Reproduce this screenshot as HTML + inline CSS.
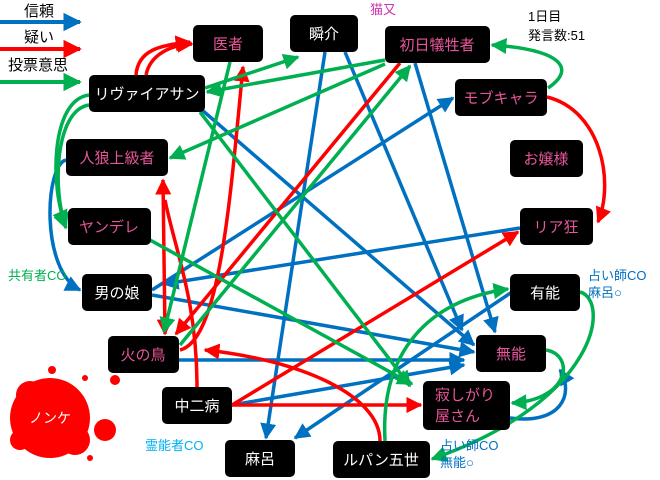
<!DOCTYPE html>
<html><head><meta charset="utf-8"><style>
body{margin:0;background:#fff;}
svg{display:block;font-family:"Liberation Sans","Noto Sans CJK JP",sans-serif;}
.n{fill:#000;}
.w{fill:#fff;font-size:15px;text-anchor:middle;}
.p{fill:#e8559a;font-size:15px;text-anchor:middle;}
</style></head><body>
<svg width="660" height="480" viewBox="0 0 660 480" xmlns="http://www.w3.org/2000/svg">
<defs>
<marker id="b" viewBox="0 0 10 10" refX="9" refY="5" markerWidth="4.6" markerHeight="4.6" orient="auto"><path d="M0,0L10,5L0,10z" fill="#0070c0"/></marker>
<marker id="r" viewBox="0 0 10 10" refX="9" refY="5" markerWidth="4.6" markerHeight="4.6" orient="auto"><path d="M0,0L10,5L0,10z" fill="#ff0000"/></marker>
<marker id="g" viewBox="0 0 10 10" refX="9" refY="5" markerWidth="4.6" markerHeight="4.6" orient="auto"><path d="M0,0L10,5L0,10z" fill="#00b050"/></marker>
<marker id="rs" viewBox="0 0 10 10" refX="1" refY="5" markerWidth="4.6" markerHeight="4.6" orient="auto"><path d="M10,0L0,5L10,10z" fill="#ff0000"/></marker>
</defs>
<!-- legend -->
<text x="24" y="16" font-size="15">信頼</text>
<line x1="0" y1="22" x2="80" y2="22" stroke="#0070c0" stroke-width="4" marker-end="url(#b)"/>
<text x="24" y="42" font-size="15">疑い</text>
<line x1="0" y1="49" x2="80" y2="49" stroke="#ff0000" stroke-width="4" marker-end="url(#r)"/>
<text x="8" y="70" font-size="15">投票意思</text>
<line x1="0" y1="82" x2="80" y2="82" stroke="#00b050" stroke-width="4" marker-end="url(#g)"/>

<g fill="none" stroke-width="3.5">
<!-- blue -->
<g stroke="#0070c0" marker-end="url(#b)">
<path d="M325,52 L266,438"/>
<path d="M345,52 L462,330"/>
<path d="M415,63 L495,332"/>
<path d="M202,110 L474,345"/>
<path d="M152,290 L453,98"/>
<path d="M520,228 L164,284"/>
<path d="M152,295 L474,352"/>
<path d="M66,160 C45,165 40,270 80,290"/>
<path d="M179,360 L464,360"/>
<path d="M232,405 L464,365"/>
<path d="M512,292 L295,438"/>
<path d="M510,418 C560,425 575,395 560,370"/>
</g>
<!-- red -->
<g stroke="#ff0000" marker-end="url(#r)">
<path d="M136,75 C138,50 160,45 190,42"/>
<path d="M146,75 C150,55 170,45 192,44"/>
<path d="M163,180 L165,334" marker-start="url(#rs)"/>
<path d="M180,350 C220,340 230,200 243,67"/>
<path d="M400,63 L176,334"/>
<path d="M197,387 C197,300 175,250 165,200" marker-end="none"/>
<path d="M547,97 C600,110 615,180 598,222"/>
<path d="M232,405 L518,232"/>
<path d="M232,405 L421,405"/>
<path d="M380,441 C380,395 300,360 205,350"/>
</g>
<!-- green -->
<g stroke="#00b050" marker-end="url(#g)">
<path d="M230,62 L164,332"/>
<path d="M385,60 L207,92"/>
<path d="M385,64 L170,158"/>
<path d="M205,88 L298,57"/>
<path d="M180,345 L410,66"/>
<path d="M89,95 C50,100 50,190 66,225"/>
<path d="M89,105 C55,110 52,190 66,228"/>
<path d="M200,112 L410,386"/>
<path d="M150,240 L412,384"/>
<path d="M548,88 C575,70 565,50 492,45"/>
<path d="M580,292 C610,300 600,400 432,459"/>
<path d="M546,350 C575,355 570,400 512,403"/>
<path d="M385,441 C380,350 430,300 508,289"/>
</g>
</g>

<!-- splash -->
<g fill="#ff0000">
<circle cx="50" cy="418" r="40"/><circle cx="30" cy="395" r="14"/><circle cx="75" cy="440" r="15"/>
<circle cx="105" cy="430" r="11"/><circle cx="52" cy="370" r="4"/><circle cx="115" cy="380" r="5"/>
<circle cx="85" cy="378" r="3"/><circle cx="90" cy="458" r="3"/><circle cx="20" cy="440" r="10"/>
</g>
<text x="50" y="423" fill="#fff" font-size="14" text-anchor="middle">ノンケ</text>

<!-- nodes -->
<rect class="n" x="193" y="25" width="70" height="37" rx="5"/><text class="p" x="228" y="49">医者</text>
<rect class="n" x="290" y="15" width="68" height="37" rx="5"/><text class="w" x="324" y="39">瞬介</text>
<rect class="n" x="385" y="26" width="105" height="37" rx="5"/><text class="p" x="437" y="50">初日犠牲者</text>
<rect class="n" x="89" y="75" width="116" height="37" rx="5"/><text class="w" x="147" y="99">リヴァイアサン</text>
<rect class="n" x="455" y="79" width="92" height="37" rx="5"/><text class="p" x="501" y="103">モブキャラ</text>
<rect class="n" x="510" y="140" width="73" height="37" rx="5"/><text class="p" x="546" y="164">お嬢様</text>
<rect class="n" x="66" y="139" width="102" height="37" rx="5"/><text class="p" x="117" y="163">人狼上級者</text>
<rect class="n" x="68" y="208" width="83" height="37" rx="5"/><text class="p" x="109" y="232">ヤンデレ</text>
<rect class="n" x="520" y="208" width="73" height="37" rx="5"/><text class="p" x="556" y="232">リア狂</text>
<rect class="n" x="82" y="274" width="70" height="37" rx="5"/><text class="w" x="117" y="298">男の娘</text>
<rect class="n" x="510" y="274" width="70" height="37" rx="5"/><text class="w" x="545" y="298">有能</text>
<rect class="n" x="108" y="336" width="71" height="37" rx="5"/><text class="p" x="143" y="360">火の鳥</text>
<rect class="n" x="476" y="335" width="70" height="37" rx="5"/><text class="p" x="511" y="359">無能</text>
<rect class="n" x="162" y="387" width="70" height="37" rx="5"/><text class="w" x="197" y="411">中二病</text>
<rect class="n" x="423" y="381" width="87" height="49" rx="5"/><text class="p" x="435" y="400" style="text-anchor:start">寂しがり</text><text class="p" x="435" y="421" style="text-anchor:start">屋さん</text>
<rect class="n" x="225" y="440" width="70" height="37" rx="5"/><text class="w" x="260" y="464">麻呂</text>
<rect class="n" x="333" y="441" width="97" height="37" rx="5"/><text class="w" x="381" y="465">ルパン五世</text>

<!-- labels -->
<text x="370" y="14" fill="#d030b0" font-size="13">猫又</text>
<text x="528" y="21" font-size="13">1日目</text>
<text x="528" y="40" font-size="13">発言数:51</text>
<text x="8" y="280" fill="#00b050" font-size="13">共有者CO</text>
<text x="588" y="280" fill="#0070c0" font-size="13">占い師CO</text>
<text x="588" y="297" fill="#0070c0" font-size="13">麻呂○</text>
<text x="145" y="450" fill="#00b0f0" font-size="13">霊能者CO</text>
<text x="440" y="450" fill="#0070c0" font-size="13">占い師CO</text>
<text x="440" y="467" fill="#0070c0" font-size="13">無能○</text>
</svg>
</body></html>
